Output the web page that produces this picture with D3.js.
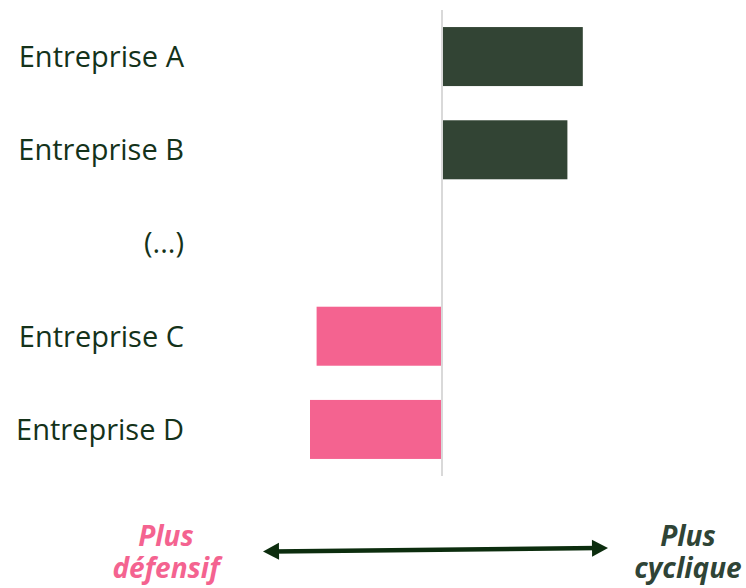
<!DOCTYPE html>
<html>
<head>
<meta charset="utf-8">
<script src="https://cdn.jsdelivr.net/npm/d3@7"></script>
<style>
  html, body { margin: 0; padding: 0; background: #ffffff; }
  svg { display: block; }
</style>
</head>
<body>
<svg id="chart" width="746" height="588"></svg>
<script>
// Companies, top to bottom; "(...)" is a spacer row with no bar
const categories = ["Entreprise A", "Entreprise B", "(...)", "Entreprise C", "Entreprise D"];
// Cyclicality score: positive = more cyclical, negative = more defensive
const values = [0.64, 0.57, null, -0.57, -0.60];
// Axis domain and direction labels
const xDomain = [-1, 1];
const leftLabel = ["Plus", "défensif"];
const rightLabel = ["Plus", "cyclique"];

const W = 746, H = 588;
const svg = d3.select("#chart");

const COLORS = {
  pos: "#324434",
  neg: "#f46390",
  text: "#14321a",
  zero: "#d9d9d9",
  arrow: "#0c2d0e",
  leftLab: "#f46390",
  rightLab: "#2f4436"
};

const data = categories.map((c, i) => ({ cat: c, v: values[i] }));

const x = d3.scaleLinear().domain(xDomain).range([222, 662]);
const y = d3.scaleBand().domain(categories).range([10, 476])
  .paddingInner(0.367).paddingOuter(0.183);

// Bars
svg.append("g").selectAll("rect")
  .data(data.filter(d => d.v !== null))
  .join("rect")
  .attr("x", d => Math.min(x(0), x(d.v)))
  .attr("width", d => Math.abs(x(d.v) - x(0)))
  .attr("y", d => y(d.cat))
  .attr("height", y.bandwidth())
  .attr("fill", d => d.v >= 0 ? COLORS.pos : COLORS.neg);

// Zero line
svg.append("line")
  .attr("x1", x(0)).attr("x2", x(0))
  .attr("y1", y.range()[0]).attr("y2", y.range()[1])
  .attr("stroke", COLORS.zero).attr("stroke-width", 2);

// Category labels
const yAxis = d3.axisLeft(y).tickSize(0).tickPadding(0);
const gAxis = svg.append("g").attr("transform", "translate(184,0)").call(yAxis);
gAxis.select(".domain").remove();
gAxis.selectAll("text")
  .attr("font-family", "'Open Sans', sans-serif")
  .attr("font-size", 29)
  .attr("fill", COLORS.text)
  .attr("dy", "0.36em");

// Direction arrow under the chart
const a0 = [263, 551.5], a1 = [608, 548];
const ang = Math.atan2(a1[1] - a0[1], a1[0] - a0[0]);
const headLen = 16, headHalf = 8.5;
function head(tip, dir) {
  const ux = Math.cos(ang) * dir, uy = Math.sin(ang) * dir;
  const bx = tip[0] - ux * headLen, by = tip[1] - uy * headLen;
  return [[tip[0], tip[1]], [bx - uy * headHalf, by + ux * headHalf], [bx + uy * headHalf, by - ux * headHalf]];
}
svg.append("line")
  .attr("x1", a0[0] + Math.cos(ang) * 10).attr("y1", a0[1] + Math.sin(ang) * 10)
  .attr("x2", a1[0] - Math.cos(ang) * 10).attr("y2", a1[1] - Math.sin(ang) * 10)
  .attr("stroke", COLORS.arrow).attr("stroke-width", 4.5);
svg.append("polygon").attr("points", head(a0, -1).join(" ")).attr("fill", COLORS.arrow);
svg.append("polygon").attr("points", head(a1, 1).join(" ")).attr("fill", COLORS.arrow);

// Direction labels, one text per line
function dirLabel(lines, cx, color) {
  const g = svg.append("g")
    .attr("font-family", "'Open Sans', sans-serif")
    .attr("font-size", 28)
    .attr("font-weight", 700)
    .attr("font-style", "italic")
    .attr("fill", color)
    .attr("text-anchor", "middle");
  lines.forEach((s, i) => {
    g.append("text").attr("x", cx).attr("y", 546 + i * 32).text(s);
  });
}
dirLabel(leftLabel, 166, COLORS.leftLab);
dirLabel(rightLabel, 688, COLORS.rightLab);
</script>
</body>
</html>
